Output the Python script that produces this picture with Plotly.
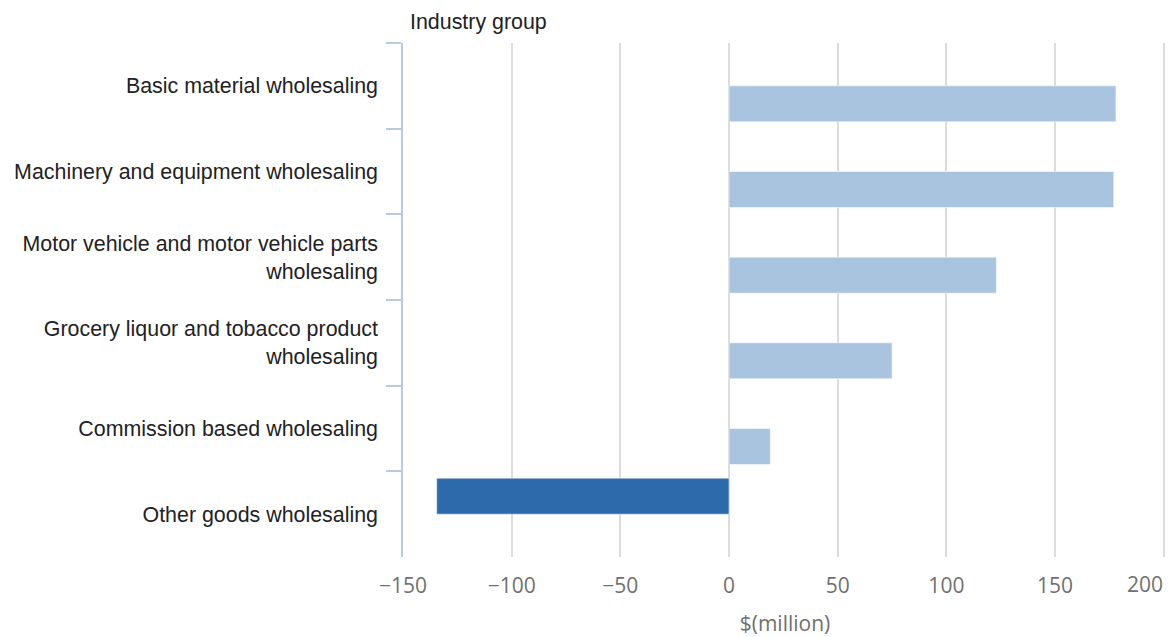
import plotly.graph_objects as go

categories = [
    "Basic material wholesaling",
    "Machinery and equipment wholesaling",
    "Motor vehicle and motor vehicle parts<br>wholesaling",
    "Grocery liquor and tobacco product<br>wholesaling",
    "Commission based wholesaling",
    "Other goods wholesaling",
]
values = [178, 177, 123, 75, 19, -134.5]
tick_values = [-150, -100, -50, 0, 50, 100, 150, 200]
tick_labels = ["\u2212150", "\u2212100", "\u221250", "0", "50", "100", "150", ""]
last_tick_label = "200"
x_title = "$(million)"
y_title = "Industry group"

neg_vals = [v if v < 0 else None for v in values]
pos_vals = [v if v >= 0 else None for v in values]

LIGHT = "#a9c4de"
DARK = "#2c6aab"
AXIS_BLUE = "#b9cbe2"
TICK_FONT = dict(family="Open Sans", size=21, color="#707070")
LABEL_FONT = dict(family="Liberation Sans", size=21.4, color="#222222")

fig = go.Figure()
fig.add_trace(go.Bar(y=categories, x=neg_vals, orientation="h",
                     marker=dict(color=DARK, line=dict(color="rgba(255,255,255,0.5)", width=1)),
                     showlegend=False, hoverinfo="x+y"))
fig.add_trace(go.Bar(y=categories, x=pos_vals, orientation="h",
                     marker=dict(color=LIGHT, line=dict(color="rgba(255,255,255,0.5)", width=1)),
                     showlegend=False, hoverinfo="x+y"))

fig.update_layout(
    width=1159, height=629,
    margin=dict(l=395, r=0, t=35, b=80),
    paper_bgcolor="white", plot_bgcolor="white",
    barmode="group", bargap=0.16, bargroupgap=0,
    xaxis=dict(
        range=[-150, 201.5],
        automargin=False,
        tickmode="array", tickvals=tick_values, ticktext=tick_labels,
        showgrid=True, gridcolor="#dcdcdc", gridwidth=1.5,
        zeroline=True, zerolinecolor="#dcdcdc", zerolinewidth=1.5,
        showline=False, ticks="",
        tickfont=TICK_FONT, ticklabelstandoff=14,
        title=dict(text=x_title, font=TICK_FONT, standoff=24),
    ),
    yaxis=dict(
        type="category", autorange="reversed",
        automargin=False,
        showgrid=False, zeroline=False,
        showline=True, linecolor=AXIS_BLUE, linewidth=1.5,
        ticks="outside", tickson="boundaries", ticklen=15, tickcolor=AXIS_BLUE, tickwidth=1.5,
        tickfont=LABEL_FONT,
        ticklabelstandoff=19,
    ),
    annotations=[
        dict(text=y_title, xref="paper", yref="paper", x=0.006, y=1.041,
             xanchor="left", yanchor="middle", showarrow=False,
             font=LABEL_FONT),
        dict(text=last_tick_label, xref="x", yref="paper", x=200, y=0, yshift=-27,
             xanchor="right", yanchor="middle", xshift=1, showarrow=False,
             font=TICK_FONT),
    ],
)

fig.write_html("out.html")
